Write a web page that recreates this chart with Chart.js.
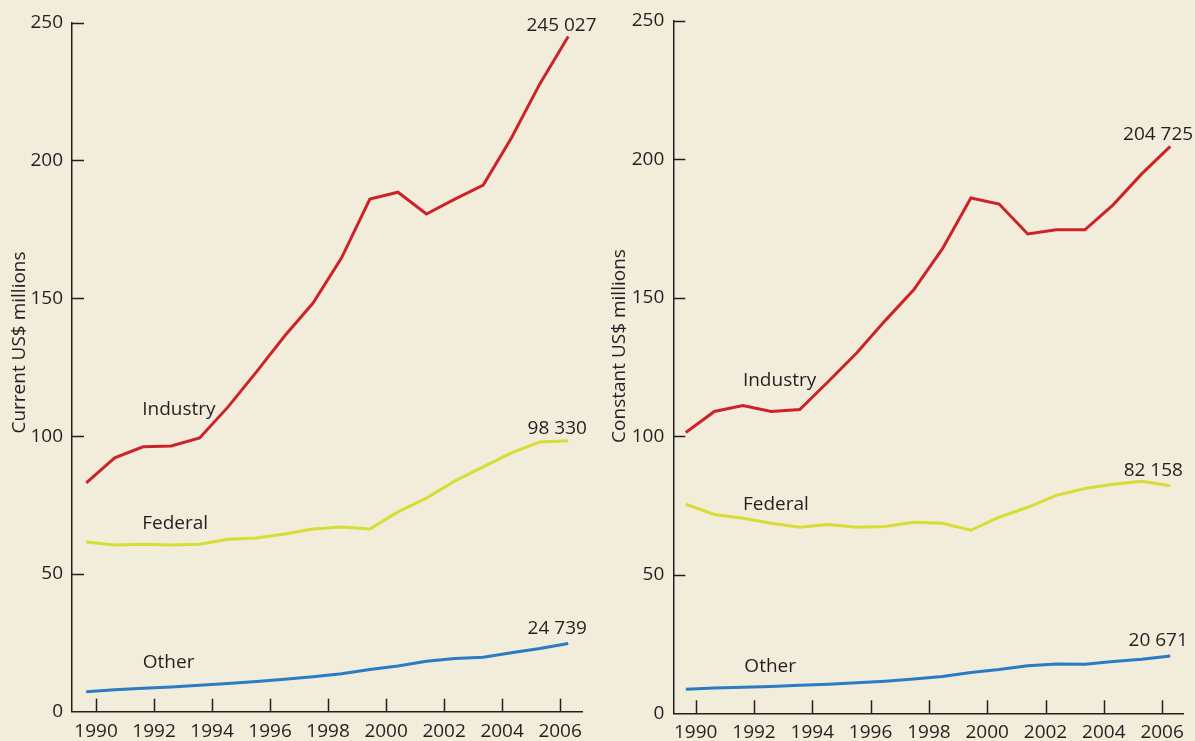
<!DOCTYPE html>
<html><head><meta charset="utf-8">
<script src="https://cdn.jsdelivr.net/npm/chart.js@4.4.1/dist/chart.umd.min.js"></script>
<style>
html,body{margin:0;padding:0;background:#f2ecdb;}
#wrap{position:relative;width:1195px;height:741px;overflow:hidden;}
canvas{position:absolute;top:0;}
</style></head><body>
<div id="wrap">
<canvas id="left" width="600" height="741" style="left:0"></canvas>
<canvas id="right" width="595" height="741" style="left:600px"></canvas>
</div>
<script>
// x positions of the yearly points (as plotted in the reference)
const xPos = [1989.66,1990.64,1991.62,1992.59,1993.57,1994.55,1995.53,1996.50,1997.48,1998.46,1999.44,2000.41,2001.39,2002.37,2003.35,2004.32,2005.30,2006.28];
const yearTicks = [1990,1992,1994,1996,1998,2000,2002,2004,2006];
const yTicks = [0,50,100,150,200,250];

// Current US$ millions (thousands of millions on axis)
const currentIndustry = [83.0,92.1,96.1,96.4,99.3,110.6,123.3,136.3,148.3,164.6,186.0,188.5,180.6,186.0,191.1,208.2,227.8,245.027];
const currentFederal  = [61.6,60.5,60.8,60.5,60.8,62.6,63.0,64.5,66.3,67.0,66.3,72.5,77.5,83.7,88.8,93.9,97.9,98.330];
const currentOther    = [7.2,8.0,8.5,9.0,9.6,10.2,11.0,11.8,12.7,13.8,15.3,16.6,18.3,19.3,19.8,21.4,22.9,24.739];

// Constant US$ millions
const constantIndustry = [101.4,109.0,111.1,109.0,109.7,119.8,130.2,141.8,152.9,167.7,186.1,183.9,173.1,174.6,174.6,183.6,194.8,204.725];
const constantFederal  = [75.5,71.8,70.4,68.6,67.2,68.2,67.2,67.5,69.0,68.6,66.1,70.8,74.4,78.7,81.2,82.7,83.8,82.158];
const constantOther    = [8.7,9.1,9.4,9.7,10.1,10.5,11.0,11.6,12.4,13.3,14.7,15.8,17.2,17.8,17.7,18.7,19.5,20.671];

const seriesNames = ['Industry','Federal','Other'];
const endLabelsCurrent = ['245 027','98 330','24 739'];
const endLabelsConstant = ['204 725','82 158','20 671'];

const COLORS = ['#cc2229','#d6de36','#2b7bc3'];
const INK = '#231f20';
const FONT = '"Open Sans", "Noto Sans", sans-serif';
const FS = 19;

function pts(vals){ return vals.map((v,i)=>({x:xPos[i], y:v})); }

function makeChart(id, cfg){
  const ctx = document.getElementById(id);
  const annot = {
    id:'annot',
    beforeDatasetsDraw(chart){
      const c = chart.ctx, a = chart.chartArea;
      const xs = chart.scales.x, ys = chart.scales.y;
      c.save();
      c.strokeStyle = INK; c.lineWidth = 1.5;
      yearTicks.forEach(v=>{
        const px = Math.round(xs.getPixelForValue(v))+0.5;
        c.beginPath(); c.moveTo(px, a.bottom); c.lineTo(px, a.bottom-13); c.stroke();
      });
      yTicks.forEach(v=>{
        if(v===0) return;
        const py = Math.round(ys.getPixelForValue(v))+0.5;
        c.beginPath(); c.moveTo(a.left, py); c.lineTo(a.left+12, py); c.stroke();
      });
      c.restore();
    },
    afterDraw(chart){
      const c = chart.ctx;
      const xs = chart.scales.x, ys = chart.scales.y;
      c.save();
      c.fillStyle = INK;
      c.font = FS + 'px ' + FONT;
      c.textBaseline = 'middle';
      c.textAlign = 'left';
      cfg.texts.forEach(t=>{
        c.fillText(t.text, xs.getPixelForValue(t.x), ys.getPixelForValue(t.y));
      });
      // y axis title
      c.translate(cfg.titleX, cfg.titleY);
      c.rotate(-Math.PI/2);
      c.textAlign = 'center';
      c.fillText(cfg.title, 0, 0);
      c.restore();
    }
  };
  return new Chart(ctx, {
    type:'line',
    data:{datasets: cfg.data.map((d,i)=>({
      label: seriesNames[i], data: pts(d), borderColor: COLORS[i], backgroundColor: COLORS[i],
      borderWidth: 3, pointRadius: 0, tension: 0, fill:false
    }))},
    options:{
      responsive:false, animation:false,
      layout:{padding:cfg.padding},
      plugins:{legend:{display:false}, tooltip:{enabled:false}},
      scales:{
        x:{type:'linear', min:cfg.xmin, max:cfg.xmax,
          afterBuildTicks(s){ s.ticks = yearTicks.map(v=>({value:v})); },
          afterFit(s){ s.height = cfg.xHeight; },
          ticks:{color:INK, font:{family:FONT, size:FS}, padding:8, maxRotation:0, autoSkip:false, callback:v=>String(v)},
          grid:{drawOnChartArea:false, drawTicks:false, color:'rgba(0,0,0,0)'},
          border:{display:true, color:INK, width:1.5}
        },
        y:{min:0, max:250,
          afterBuildTicks(s){ s.ticks = yTicks.map(v=>({value:v})); },
          afterFit(s){ s.width = cfg.yWidth; },
          ticks:{color:INK, font:{family:FONT, size:FS}, padding:9},
          grid:{drawOnChartArea:false, drawTicks:false, color:'rgba(0,0,0,0)'},
          border:{display:true, color:INK, width:1.5}
        }
      }
    },
    plugins:[annot]
  });
}

makeChart('left', {
  data:[currentIndustry, currentFederal, currentOther],
  padding:{top:22.7, right:18, left:0, bottom:0},
  xHeight:29.3, yWidth:72,
  xmin:1989.169, xmax:2006.755,
  title:'Current US$ millions', titleX:20, titleY:342.5,
  texts:[
    {text:seriesNames[0], x:1991.59, y:109.5},
    {text:seriesNames[1], x:1991.59, y:68.1},
    {text:seriesNames[2], x:1991.61, y:17.8},
    {text:endLabelsCurrent[0], x:2004.84, y:248.8},
    {text:endLabelsCurrent[1], x:2004.88, y:102.9},
    {text:endLabelsCurrent[2], x:2004.88, y:30.3}
  ]
});

makeChart('right', {
  data:[constantIndustry, constantFederal, constantOther],
  padding:{top:21, right:11.7, left:0, bottom:0},
  xHeight:27.7, yWidth:73.3,
  xmin:1989.232, xmax:2006.727,
  title:'Constant US$ millions', titleX:19.3, titleY:346,
  texts:[
    {text:seriesNames[0], x:1991.62, y:120.2},
    {text:seriesNames[1], x:1991.62, y:75.5},
    {text:seriesNames[2], x:1991.67, y:16.9},
    {text:endLabelsConstant[0], x:2004.66, y:209.1},
    {text:endLabelsConstant[1], x:2004.68, y:87.7},
    {text:endLabelsConstant[2], x:2004.85, y:26.4}
  ]
});
</script>
</body></html>
